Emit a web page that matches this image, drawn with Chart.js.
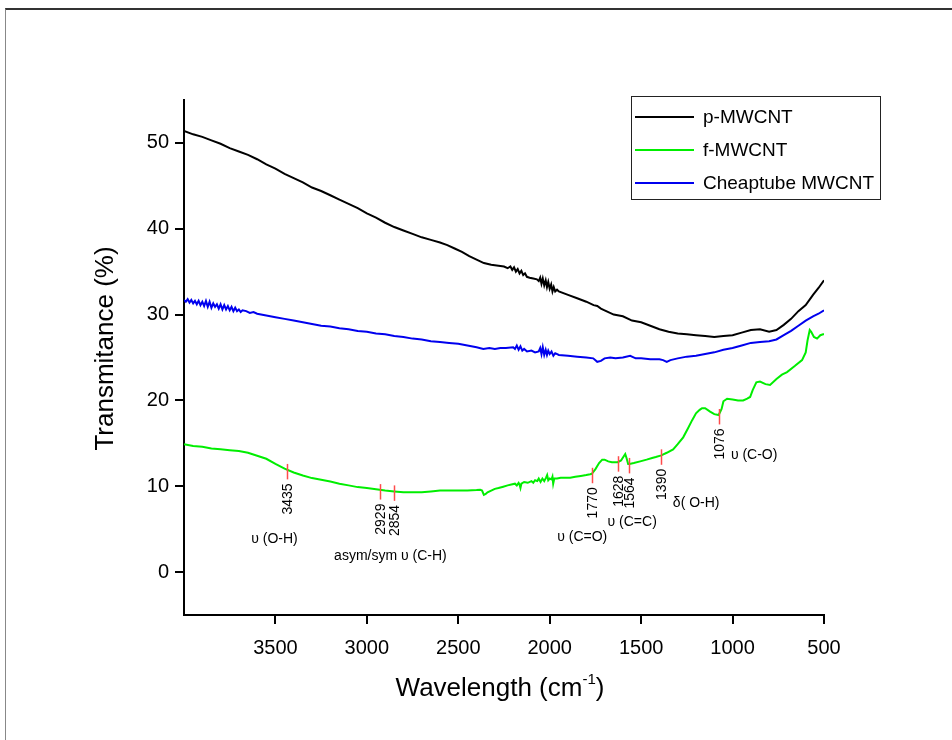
<!DOCTYPE html>
<html>
<head>
<meta charset="utf-8">
<script src="https://cdn.jsdelivr.net/npm/chart.js@4/dist/chart.umd.min.js"></script>
<style>
  html, body { margin: 0; padding: 0; background: #fff; overflow: hidden; }
  #frame { position: absolute; left: 5px; top: 8px; width: 1000px; height: 800px;
           border-top: 2px solid #333; border-left: 1px solid #888; }
  canvas { position: absolute; left: 0; top: 0; }
</style>
</head>
<body>
<div id="frame"></div>
<canvas id="ftir" width="952" height="740"></canvas>
<script>
// FTIR spectra, [wavenumber, transmittance %]
const pMwcnt = [
  [4000, 51.4], [3950, 51.0], [3900, 50.7], [3850, 50.3], [3800, 49.9], [3750, 49.4],
  [3700, 49.0], [3650, 48.6], [3600, 48.1], [3550, 47.5], [3500, 47.0], [3450, 46.4],
  [3400, 45.9], [3350, 45.4], [3300, 44.8], [3250, 44.4], [3200, 43.9], [3150, 43.4],
  [3100, 42.9], [3050, 42.4], [3000, 41.8], [2950, 41.3], [2900, 40.7], [2850, 40.2],
  [2800, 39.8], [2750, 39.4], [2700, 39.0], [2650, 38.7], [2600, 38.4], [2560, 38.1],
  [2520, 37.7], [2480, 37.3], [2440, 36.8], [2400, 36.4], [2360, 36.0], [2320, 35.8],
  [2280, 35.7], [2250, 35.6], [2230, 35.4], [2215, 35.6], [2205, 35.2], [2195, 35.5],
  [2185, 35.0], [2175, 35.3], [2165, 34.8], [2155, 35.1], [2145, 34.6], [2135, 34.8],
  [2125, 34.4], [2110, 34.3], [2090, 34.2], [2070, 34.1], [2060, 33.9], [2052, 34.3],
  [2045, 33.6], [2038, 34.2], [2030, 33.4], [2022, 34.0], [2015, 33.2], [2008, 33.8],
  [2000, 33.0], [1992, 33.5], [1985, 32.7], [1978, 33.2], [1970, 32.7], [1960, 32.9],
  [1950, 32.7], [1900, 32.3], [1850, 31.9], [1800, 31.5],
  [1760, 31.1], [1740, 31.0], [1720, 30.7], [1700, 30.5], [1650, 30.0], [1600, 29.8],
  [1550, 29.3], [1500, 29.1], [1450, 28.7], [1400, 28.3], [1350, 28.0], [1300, 27.8],
  [1250, 27.7], [1200, 27.6], [1150, 27.5], [1100, 27.4], [1050, 27.5], [1000, 27.6],
  [950, 27.9], [900, 28.2], [850, 28.3], [800, 28.0], [760, 28.2], [720, 28.8],
  [680, 29.5], [640, 30.4], [600, 31.1], [560, 32.3], [530, 33.1], [500, 34.0]
];

const fMwcnt = [
  [4000, 14.9], [3950, 14.7], [3900, 14.6], [3850, 14.4], [3800, 14.3], [3750, 14.2],
  [3700, 14.1], [3650, 13.9], [3600, 13.55], [3550, 13.2], [3500, 12.6], [3450, 12.05],
  [3400, 11.6], [3350, 11.25], [3300, 10.95], [3250, 10.75], [3200, 10.55], [3150, 10.3],
  [3100, 10.1], [3050, 9.9], [3000, 9.8], [2950, 9.65], [2900, 9.5], [2850, 9.4],
  [2800, 9.3], [2750, 9.3], [2700, 9.3], [2650, 9.4], [2600, 9.5], [2550, 9.5],
  [2500, 9.5], [2450, 9.5], [2400, 9.55], [2380, 9.6], [2370, 9.5], [2360, 9.0],
  [2350, 9.1], [2340, 9.3], [2320, 9.5], [2300, 9.7], [2280, 9.8], [2254, 9.95],
  [2230, 10.1], [2210, 10.2], [2190, 10.3], [2180, 10.1], [2170, 10.4], [2165, 10.2],
  [2160, 9.8], [2155, 10.3], [2140, 10.5], [2120, 10.4], [2100, 10.6], [2090, 10.4],
  [2080, 10.7], [2068, 10.6], [2060, 10.9], [2050, 10.5], [2040, 10.9], [2030, 10.6],
  [2020, 11.0], [2014, 11.3], [2008, 10.7], [2000, 10.9], [1990, 10.8], [1985, 11.1],
  [1981, 10.3], [1975, 10.9], [1960, 10.9], [1940, 11.0], [1920, 11.0], [1888, 11.0],
  [1860, 11.1], [1830, 11.2], [1800, 11.3], [1779, 11.4], [1770, 11.45], [1750, 12.0],
  [1730, 12.7], [1713, 13.1], [1700, 13.1], [1680, 12.9], [1660, 12.8], [1640, 12.8],
  [1628, 12.8], [1610, 13.0], [1595, 13.5], [1587, 13.75], [1580, 13.3], [1571, 12.6],
  [1564, 12.6], [1540, 12.7], [1505, 12.9], [1470, 13.1], [1440, 13.3], [1420, 13.4],
  [1390, 13.6], [1360, 13.9], [1325, 14.3], [1300, 14.9], [1270, 15.7], [1245, 16.7],
  [1221, 17.7], [1200, 18.5], [1180, 18.9], [1167, 19.1], [1150, 19.1], [1123, 18.7],
  [1100, 18.4], [1076, 18.3], [1060, 19.0], [1050, 19.9], [1030, 20.2], [1000, 20.1],
  [970, 20.0], [942, 20.0], [920, 20.2], [904, 20.4], [890, 21.2], [870, 22.1],
  [850, 22.2], [820, 21.9], [795, 21.8], [760, 22.5], [730, 23.0], [702, 23.3],
  [660, 24.0], [620, 24.7], [600, 25.6], [590, 27.0], [578, 28.2], [570, 28.0],
  [555, 27.4], [538, 27.2], [520, 27.6], [505, 27.7], [500, 27.7]
];

const cheaptube = [
  [4000, 31.7], [3990, 31.5], [3980, 31.8], [3970, 31.4], [3960, 31.7], [3950, 31.3],
  [3940, 31.6], [3930, 31.2], [3920, 31.6], [3910, 31.1], [3900, 31.5], [3890, 31.0],
  [3880, 31.6], [3870, 30.9], [3860, 31.5], [3850, 30.8], [3840, 31.3], [3830, 30.9],
  [3820, 31.2], [3810, 30.7], [3800, 31.2], [3790, 30.6], [3780, 31.1], [3770, 30.6],
  [3760, 31.0], [3750, 30.5], [3740, 30.9], [3730, 30.4], [3720, 30.8], [3710, 30.4],
  [3700, 30.6], [3690, 30.3], [3680, 30.5], [3660, 30.4], [3640, 30.2], [3620, 30.3],
  [3600, 30.1], [3550, 29.9], [3500, 29.7],
  [3450, 29.5], [3400, 29.3], [3350, 29.1], [3300, 28.9], [3250, 28.7], [3200, 28.6],
  [3150, 28.4], [3100, 28.3], [3050, 28.1], [3000, 28.0], [2950, 27.8], [2900, 27.7],
  [2850, 27.5], [2800, 27.4], [2750, 27.2], [2700, 27.1], [2650, 26.9], [2600, 26.8],
  [2550, 26.7], [2500, 26.6], [2450, 26.4], [2400, 26.2], [2363, 26.0], [2330, 26.1],
  [2300, 26.0], [2270, 26.1], [2240, 26.1], [2200, 26.2], [2190, 26.0], [2180, 26.4],
  [2170, 25.9], [2160, 26.3], [2150, 25.8], [2140, 26.0], [2124, 25.7], [2100, 25.8],
  [2080, 25.6], [2060, 25.7], [2052, 26.1], [2045, 25.4], [2038, 26.2], [2030, 25.3],
  [2022, 25.9], [2015, 25.3], [2008, 25.8], [2000, 25.4], [1990, 25.7], [1980, 25.2],
  [1970, 25.5], [1950, 25.3],
  [1900, 25.2], [1850, 25.1], [1800, 25.0], [1762, 24.9], [1740, 24.5], [1720, 24.6],
  [1700, 24.9], [1669, 25.0], [1640, 24.9], [1600, 25.0], [1560, 25.2], [1530, 24.9],
  [1500, 24.9], [1450, 24.8], [1400, 24.8], [1380, 24.7], [1360, 24.5], [1340, 24.7],
  [1300, 24.9], [1250, 25.1], [1200, 25.2], [1150, 25.4], [1100, 25.6], [1050, 25.9],
  [1000, 26.1], [950, 26.4], [900, 26.7], [850, 26.8], [800, 26.9], [760, 27.1],
  [720, 27.6], [680, 28.1], [640, 28.7], [600, 29.3], [560, 29.8], [530, 30.1],
  [500, 30.5]
];

const seriesNames = ['p-MWCNT', 'f-MWCNT', 'Cheaptube MWCNT'];
const xTicks = [3500, 3000, 2500, 2000, 1500, 1000, 500];
const yTicks = [0, 10, 20, 30, 40, 50];

// band assignments on the f-MWCNT curve
const peakWn = [3435, 2929, 2854, 1770, 1628, 1564, 1390, 1076];
const peakT = [11.9, 9.55, 9.4, 11.45, 12.8, 12.6, 13.6, 18.3];
const bandNames = ['υ (O-H)', 'asym/sym υ (C-H)', 'υ (C=O)', 'υ (C=C)', 'δ( O-H)', 'υ (C-O)'];
const bandAt = [[3505, 3.85], [2871, 1.86], [1822, 4.08], [1549, 5.83], [1199, 8.04], [882, 13.64]];

const FONT = 'Arial, "Liberation Sans", Helvetica, sans-serif';
const toXY = arr => arr.map(d => ({ x: d[0], y: d[1] }));

const peakMarks = {
  id: 'peakMarks',
  afterDatasetsDraw(chart) {
    const { ctx, scales: { x, y } } = chart;
    ctx.save();
    ctx.strokeStyle = '#ff4b4b';
    ctx.lineWidth = 1.5;
    ctx.fillStyle = '#000';
    ctx.font = '14px ' + FONT;
    peakWn.forEach((wn, i) => {
      const px = Math.round(x.getPixelForValue(wn)) + 0.5;
      const top = y.getPixelForValue(peakT[i] + 0.7);
      const bot = y.getPixelForValue(peakT[i] - 1.1);
      ctx.beginPath();
      ctx.moveTo(px, top);
      ctx.lineTo(px, bot);
      ctx.stroke();
      ctx.save();
      ctx.translate(px, bot + 4);
      ctx.rotate(-Math.PI / 2);
      ctx.textAlign = 'right';
      ctx.textBaseline = 'middle';
      ctx.fillText(String(wn), 0, 1);
      ctx.restore();
    });
    ctx.textAlign = 'center';
    ctx.textBaseline = 'middle';
    bandNames.forEach((t, i) => {
      ctx.fillText(t, x.getPixelForValue(bandAt[i][0]), y.getPixelForValue(bandAt[i][1]));
    });
    ctx.restore();
  }
};

const boxLegend = {
  id: 'boxLegend',
  afterDraw(chart) {
    const { ctx, chartArea } = chart;
    const left = chartArea.right - 193, top = chartArea.top - 4;
    ctx.save();
    ctx.strokeStyle = '#222';
    ctx.lineWidth = 1;
    ctx.strokeRect(left + 0.5, top + 0.5, 249, 103);
    ctx.font = '19px ' + FONT;
    ctx.textBaseline = 'middle';
    ctx.fillStyle = '#000';
    chart.data.datasets.forEach((ds, i) => {
      const yy = top + 21 + i * 33;
      ctx.strokeStyle = ds.borderColor;
      ctx.lineWidth = 2;
      ctx.beginPath();
      ctx.moveTo(left + 4, yy);
      ctx.lineTo(left + 63, yy);
      ctx.stroke();
      ctx.fillText(ds.label, left + 72, yy + 1);
    });
    ctx.restore();
  }
};

// axis titles (x title has a superscript, so both are drawn here)
const axisTitles = {
  id: 'axisTitles',
  afterDraw(chart) {
    const { ctx, chartArea } = chart;
    ctx.save();
    ctx.fillStyle = '#000';
    ctx.font = '26px ' + FONT;
    ctx.textAlign = 'center';
    ctx.textBaseline = 'middle';
    ctx.translate(106, (chartArea.top + chartArea.bottom) / 2 - 9);
    ctx.rotate(-Math.PI / 2);
    ctx.fillText('Transmitance (%)', 0, 0);
    ctx.restore();

    const main = 'Wavelength (cm', sup = '-1', end = ')';
    ctx.save();
    ctx.fillStyle = '#000';
    ctx.textAlign = 'left';
    ctx.textBaseline = 'alphabetic';
    ctx.font = '26px ' + FONT;
    const w1 = ctx.measureText(main).width, w3 = ctx.measureText(end).width;
    ctx.font = '15px ' + FONT;
    const w2 = ctx.measureText(sup).width;
    let xx = (chartArea.left + chartArea.right) / 2 - 4 - (w1 + w2 + w3) / 2;
    const base = 696;
    ctx.font = '26px ' + FONT;
    ctx.fillText(main, xx, base);
    xx += w1;
    ctx.font = '15px ' + FONT;
    ctx.fillText(sup, xx, base - 12);
    xx += w2;
    ctx.font = '26px ' + FONT;
    ctx.fillText(end, xx, base);
    ctx.restore();
  }
};

const lineStyle = { borderWidth: 2, pointRadius: 0, tension: 0, fill: false };

new Chart(document.getElementById('ftir'), {
  type: 'line',
  data: {
    datasets: [
      { label: seriesNames[0], data: toXY(pMwcnt), borderColor: '#000000', ...lineStyle },
      { label: seriesNames[1], data: toXY(fMwcnt), borderColor: '#00ee00', ...lineStyle },
      { label: seriesNames[2], data: toXY(cheaptube), borderColor: '#0000ee', ...lineStyle }
    ]
  },
  options: {
    responsive: false,
    animation: false,
    layout: { padding: { left: 0, right: 128, top: 100, bottom: 0 } },
    plugins: { legend: { display: false }, tooltip: { enabled: false } },
    scales: {
      x: {
        type: 'linear',
        reverse: true,
        min: 500,
        max: 4000,
        afterBuildTicks: s => { s.ticks = xTicks.map(v => ({ value: v })); },
        afterFit: s => { s.height = 125; },
        grid: { drawOnChartArea: false, drawTicks: true, tickLength: 9, color: '#000', lineWidth: 2 },
        border: { display: true, color: '#000', width: 2 },
        ticks: {
          color: '#000', font: { size: 20, family: FONT }, padding: 12,
          maxRotation: 0, autoSkip: false, callback: v => String(v)
        }
      },
      y: {
        min: -5,
        max: 55,
        afterBuildTicks: s => { s.ticks = yTicks.map(v => ({ value: v })); },
        afterFit: s => { s.width = 184; },
        grid: { drawOnChartArea: false, drawTicks: true, tickLength: 9, color: '#000', lineWidth: 2 },
        border: { display: true, color: '#000', width: 2 },
        ticks: { color: '#000', font: { size: 20, family: FONT }, padding: 6, callback: v => String(v) }
      }
    }
  },
  plugins: [peakMarks, boxLegend, axisTitles]
});
</script>
</body>
</html>
